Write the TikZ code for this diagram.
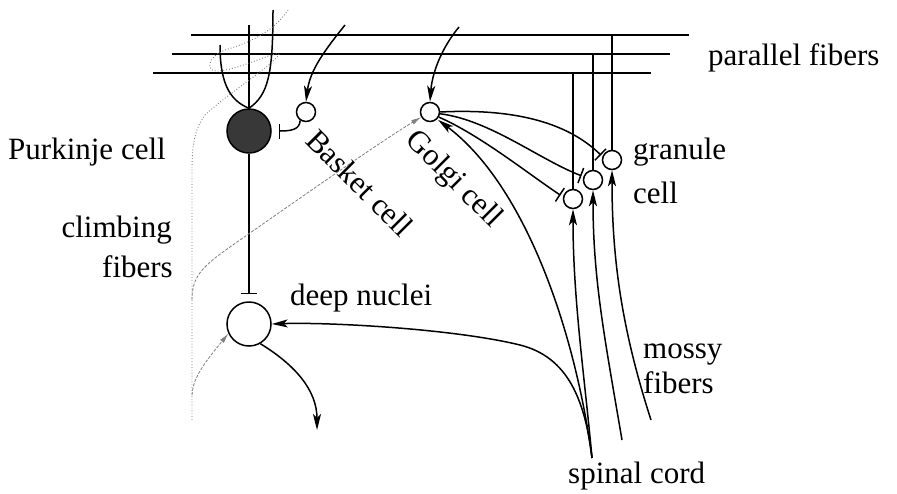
\documentclass[tikz,border=0pt]{standalone}
\usepackage{fontspec}
\setmainfont{Liberation Serif}
\usetikzlibrary{arrows.meta}
\begin{document}
\begin{tikzpicture}[x=1pt,y=-1pt,
  fiber/.style={line width=1.5pt},
  cf/.style={black!50, line width=0.9pt, dotted},
  cfd/.style={black!50, line width=0.8pt, dash pattern=on 3pt off 1.5pt},
  arr/.style={-{Stealth[length=16pt,width=8pt,inset=4pt]}},
  garr/.style={-{Latex[length=10pt,width=5pt]}},
  inh/.style={-{Bar[width=16pt]}},
  cell/.style={circle,draw,line width=1.5pt,minimum size=19pt,inner sep=0pt,fill=white},
  big/.style={circle,draw,line width=1.5pt,minimum size=44pt,inner sep=0pt},
  lbl/.style={font=\fontsize{31}{36}\selectfont, inner sep=0pt}]
\useasboundingbox (0,0) rectangle (897,493);

% coordinates
\coordinate (pf1a) at (191,35); \coordinate (pf1b) at (689,35);
\coordinate (pf2a) at (172,54); \coordinate (pf2b) at (670,54);
\coordinate (pf3a) at (153,73); \coordinate (pf3b) at (651,73);
\coordinate (pktop) at (249,25);
\coordinate (dl) at (220,45);
\coordinate (dr) at (273,10);
\coordinate (bkin) at (345,25);
\coordinate (ggin) at (459,27);
\coordinate (sc) at (592,458);
\coordinate (mf2) at (622,440);
\coordinate (mf3) at (651,420);
\coordinate (dnout) at (317,430);
\coordinate (cfbot) at (192,420);
\coordinate (cftop) at (288,10);
\coordinate (cfg) at (192,300);
\coordinate (cfn) at (192,395);

% cells
\node[big, fill=black!78] (pk) at (249,131) {};
\node[big] (dn) at (249,324) {};
\node[cell] (bk) at (306,112) {};
\node[cell] (gg) at (430,112) {};
\node[cell] (g1) at (573,199) {};
\node[cell] (g2) at (593,180) {};
\node[cell] (g3) at (612,160) {};

% parallel fibers
\draw[fiber] (pf1a) -- (pf1b);
\draw[fiber] (pf2a) -- (pf2b);
\draw[fiber] (pf3a) -- (pf3b);
\draw[fiber] (g1.north |- pf3a) -- (g1.north);
\draw[fiber] (g2.north |- pf2a) -- (g2.north);
\draw[fiber] (g3.north |- pf1a) -- (g3.north);

% Purkinje cell
\draw[fiber] (pktop) -- (pk.north);
\draw[fiber] (pk.north) .. controls (228,100) and (220,80) .. (dl);
\draw[fiber] (pk.north) .. controls (268,95) and (273,75) .. (dr);
\draw[fiber, inh, shorten >=7pt] (pk.south) -- (dn.north);

% climbing fibers
\draw[cf] (cfbot) -- (192,170) .. controls (192,140) and (196,128) .. (205,115)
  .. controls (230,92) and (266,70) .. (278,56)
  .. controls (286,46) and (240,70) .. (218,71)
  .. controls (205,72) and (207,57) .. (225,50)
  .. controls (245,44) and (272,34) .. (cftop);
\draw[cfd, garr] (cfg) .. controls (192,278) and (200,268) .. (230,247)
  .. controls (300,198) and (380,142) .. (gg.-150);
\draw[cfd, garr] (cfn) .. controls (193,380) and (200,368) .. (dn.205);

% basket cell
\draw[fiber, arr] (bkin) .. controls (325,50) and (310,70) .. (bk.north);
\draw[fiber, -{Bar[width=15pt]}] (bk.235) .. controls (300,130) and (290,131) .. ([xshift=7pt]pk.east);

% Golgi cell
\draw[fiber, arr] (ggin) .. controls (440,50) and (432,75) .. (gg.north);
\draw[fiber, inh, shorten >=2pt] (gg.east) .. controls (520,108) and (570,125) .. (g3.160);
\draw[fiber, inh, shorten >=2pt] (gg.-10) .. controls (490,120) and (540,160) .. (g2.160);
\draw[fiber, inh, shorten >=3pt] (gg.-30) .. controls (480,135) and (530,175) .. (g1.168);

% mossy fibers
\draw[fiber, arr, shorten >=1pt] (sc) .. controls (575,330) and (525,185) .. (gg.-45);
\draw[fiber, arr] (sc) .. controls (585,400) and (568,357) .. (520,345)
  .. controls (455,329) and (330,322) .. (dn.east);
\draw[fiber, arr] (sc) .. controls (585,380) and (573,300) .. (g1.south);
\draw[fiber, arr] (mf2) .. controls (605,340) and (593,280) .. (g2.south);
\draw[fiber, arr] (mf3) .. controls (622,330) and (612,260) .. (g3.south);

% deep nuclei output
\draw[fiber, arr] (dn.-60) .. controls (295,365) and (317,390) .. (dnout);

% labels
\node[lbl, anchor=base west] (tpf) at (708,65) {parallel fibers};
\node[lbl, anchor=base west] (tgr) at (633,159) {granule};
\node[lbl, anchor=base west] (tgc) at (633,203) {cell};
\node[lbl, anchor=base west] (tpk) at (8,159) {Purkinje cell};
\node[lbl, anchor=base east] (tcl) at (172,237) {climbing};
\node[lbl, anchor=base east] (tcf) at (173,277) {fibers};
\node[lbl, anchor=base west] (tdn) at (290,305) {deep nuclei};
\node[lbl, anchor=base west] (tmo) at (643,358) {mossy};
\node[lbl, anchor=base west] (tmf) at (643,393) {fibers};
\node[lbl, anchor=base west] (tsc) at (568,483) {spinal cord};
\node[lbl, rotate=-45] (tbk) at (360,183) {Basket cell};
\node[lbl, rotate=-45] (tgo) at (453,180) {Golgi cell};
\end{tikzpicture}
\end{document}
